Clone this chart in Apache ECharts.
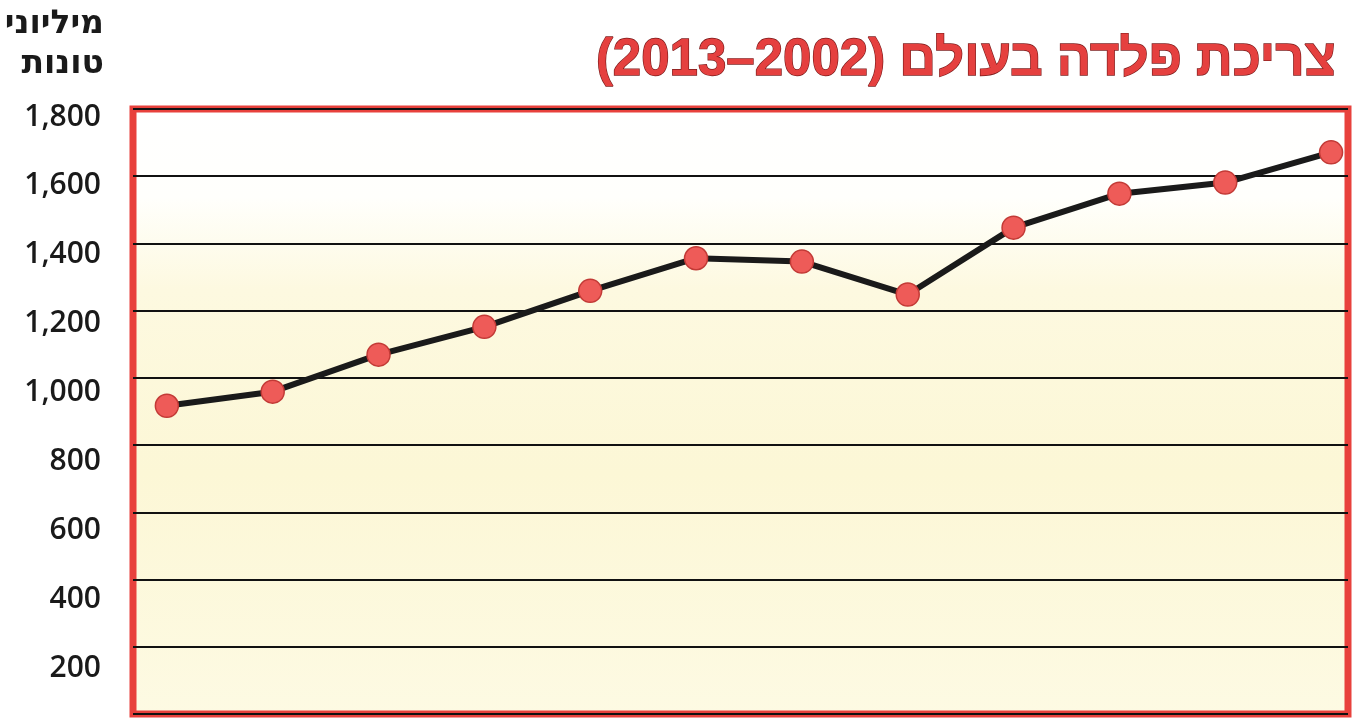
<!DOCTYPE html>
<html>
<head>
<meta charset="utf-8">
<script src="https://cdn.jsdelivr.net/npm/echarts@6/dist/echarts.min.js"></script>
<style>
html,body{margin:0;padding:0;background:#fff;}
#chart{width:1354px;height:721px;}
</style>
</head>
<body>
<div id="chart" dir="rtl"></div>
<script>
const titleText = 'צריכת פלדה בעולם (2002–2013)';
const unitText = 'מיליוני\nטונות';
const years = [2002, 2003, 2004, 2005, 2006, 2007, 2008, 2009, 2010, 2011, 2012, 2013];
const consumption = [917, 959, 1069, 1152, 1259, 1356, 1346, 1248, 1447, 1548, 1581, 1671];
const yTicks = [200, 400, 600, 800, 1000, 1200, 1400, 1600, 1800];

const chart = echarts.init(document.getElementById('chart'));
chart.setOption({
  animation: false,
  backgroundColor: '#ffffff',
  title: {
    text: titleText,
    right: 12, top: 30,
    textStyle: {
      fontFamily: 'Liberation Sans',
      fontWeight: 'bold',
      fontSize: 51,
      color: '#e5403f',
      textBorderColor: '#7a1a1a',
      textBorderWidth: 1.3
    }
  },
  graphic: [{
    type: 'text',
    right: 1250,
    top: 4,
    style: {
      text: unitText,
      textAlign: 'right',
      font: 'bold 33px "DejaVu Sans"',
      lineHeight: 40,
      fill: '#1a1a1a'
    }
  }],
  grid: {
    left: 133, right: 6, top: 109, bottom: 7,
    show: true,
    borderColor: '#e8413c',
    borderWidth: 7,
    backgroundColor: {
      type: 'linear', x: 0, y: 0, x2: 0, y2: 1,
      colorStops: [
        {offset: 0, color: '#ffffff'},
        {offset: 0.15, color: '#fffffc'},
        {offset: 0.3, color: '#fdf9e0'},
        {offset: 0.6, color: '#fcf7d6'},
        {offset: 1, color: '#fdfae3'}
      ]
    }
  },
  xAxis: {
    type: 'value',
    min: 2001.68,
    max: 2013.16,
    show: false
  },
  yAxis: [
    {
      type: 'value',
      min: 0,
      max: 1800,
      interval: 200,
      axisLine: {show: false},
      axisTick: {show: false},
      axisLabel: {show: false},
      splitLine: {
        show: true,
        lineStyle: {color: '#111111', width: 2}
      }
    },
    {
      type: 'value',
      position: 'left',
      min: 66.4,
      max: 1823.2,
      axisLine: {show: false},
      axisTick: {show: false},
      splitLine: {show: false},
      axisLabel: {
        customValues: yTicks,
        margin: 32,
        fontFamily: 'Open Sans',
        fontWeight: 600,
        fontSize: 30,
        color: '#1a1a1a',
        formatter: function (v) {
          return v.toLocaleString('en-US');
        }
      }
    }
  ],
  series: [{
    type: 'line',
    yAxisIndex: 0,
    data: years.map((y, i) => [y, consumption[i]]),
    lineStyle: {color: '#1a1a1a', width: 6},
    symbol: 'circle',
    symbolSize: 23,
    itemStyle: {color: '#ee5b58', borderColor: '#c23a36', borderWidth: 1.5},
    z: 5
  }]
});
</script>
</body>
</html>
